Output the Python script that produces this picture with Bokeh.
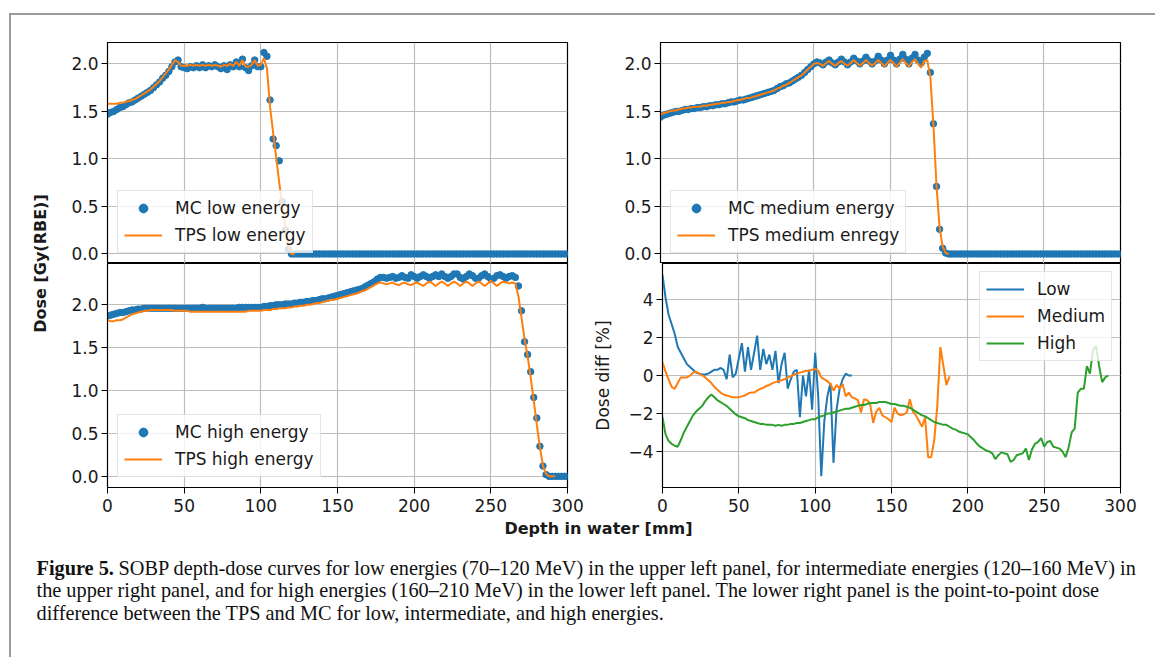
import math
from bokeh.plotting import figure
from bokeh.layouts import row, column
from bokeh.models import Range1d, FixedTicker, Legend, LegendItem, Div
from bokeh.core.properties import value
from bokeh.embed import file_html
from bokeh.resources import INLINE

# ---------------- data ----------------
STEP = 2  # depth grid spacing in mm
depth_ticks = [0, 50, 100, 150, 200, 250, 300]
dose_ticks = [0.0, 0.5, 1.0, 1.5, 2.0]
diff_ticks = [-4, -2, 0, 2, 4]

mc_low = [
    1.47, 1.49, 1.50, 1.52, 1.54, 1.55, 1.57, 1.59, 1.60, 1.62,
    1.64, 1.66, 1.68, 1.70, 1.72, 1.75, 1.78, 1.81, 1.85, 1.88,
    1.92, 1.97, 2.02, 2.04, 1.97, 1.96, 1.95, 1.97, 1.96, 1.98,
    1.96, 1.99, 1.96, 1.98, 1.97, 1.99, 1.97, 1.95, 1.98, 1.94,
    1.99, 1.97, 2.02, 1.97, 2.05, 1.96, 1.93, 1.98, 2.04, 1.97,
    1.97, 2.12, 2.08, 1.62, 1.21, 1.14, 0.98, 0.55, 0.25, 0.05,
    0, 0, 0, 0, 0, 0, 0, 0, 0, 0,
    0, 0, 0, 0, 0, 0, 0, 0, 0, 0,
    0, 0, 0, 0, 0, 0, 0, 0, 0, 0,
    0, 0, 0, 0, 0, 0, 0, 0, 0, 0,
    0, 0, 0, 0, 0, 0, 0, 0, 0, 0,
    0, 0, 0, 0, 0, 0, 0, 0, 0, 0,
    0, 0, 0, 0, 0, 0, 0, 0, 0, 0,
    0, 0, 0, 0, 0, 0, 0, 0, 0, 0,
    0, 0, 0, 0, 0, 0, 0, 0, 0, 0,
    0,
]
tps_low = [
    1.58, 1.58, 1.58, 1.58, 1.59, 1.59, 1.60, 1.61, 1.62, 1.63,
    1.65, 1.67, 1.69, 1.71, 1.73, 1.76, 1.79, 1.82, 1.86, 1.90,
    1.94, 1.99, 2.04, 2.02, 1.98, 1.98, 1.98, 1.99, 1.98, 1.99,
    1.98, 1.99, 1.98, 1.99, 1.98, 1.99, 1.98, 1.97, 1.99, 1.98,
    2.00, 1.98, 2.02, 1.98, 2.04, 1.97, 1.97, 1.99, 2.04, 1.98,
    1.99, 2.06, 1.95, 1.55, 1.28, 1.02, 0.75, 0.50, 0.28, 0.08,
    0.0, 0.0,
]
mc_medium = [
    1.44, 1.46, 1.47, 1.48, 1.49, 1.50, 1.50, 1.51, 1.52, 1.52,
    1.53, 1.53, 1.54, 1.54, 1.55, 1.55, 1.56, 1.56, 1.57, 1.57,
    1.58, 1.58, 1.59, 1.60, 1.60, 1.61, 1.62, 1.62, 1.63, 1.64,
    1.65, 1.66, 1.67, 1.68, 1.69, 1.70, 1.71, 1.72, 1.74, 1.76,
    1.77, 1.79, 1.80, 1.82, 1.84, 1.86, 1.88, 1.91, 1.94, 1.97,
    2.00, 2.02, 2.01, 1.99, 2.02, 2.04, 2.01, 1.99, 2.02, 2.05,
    2.02, 1.99, 2.02, 2.06, 2.03, 2.00, 2.03, 2.07, 2.03, 2.00,
    2.03, 2.08, 2.04, 2.00, 2.04, 2.09, 2.04, 2.00, 2.05, 2.10,
    2.05, 2.00, 2.06, 2.10, 2.04, 2.01, 2.07, 2.11, 1.91, 1.37,
    0.71, 0.26, 0.06, 0.01, 0, 0, 0, 0, 0, 0,
    0, 0, 0, 0, 0, 0, 0, 0, 0, 0,
    0, 0, 0, 0, 0, 0, 0, 0, 0, 0,
    0, 0, 0, 0, 0, 0, 0, 0, 0, 0,
    0, 0, 0, 0, 0, 0, 0, 0, 0, 0,
    0, 0, 0, 0, 0, 0, 0, 0, 0, 0,
    0,
]
tps_medium = [
    1.47, 1.48, 1.49, 1.50, 1.51, 1.51, 1.52, 1.53, 1.53, 1.54,
    1.54, 1.55, 1.55, 1.55, 1.56, 1.56, 1.57, 1.57, 1.58, 1.58,
    1.59, 1.59, 1.60, 1.60, 1.61, 1.62, 1.62, 1.63, 1.64, 1.64,
    1.65, 1.66, 1.67, 1.68, 1.69, 1.70, 1.71, 1.72, 1.74, 1.75,
    1.77, 1.78, 1.80, 1.82, 1.84, 1.86, 1.88, 1.91, 1.94, 1.97,
    2.00, 2.01, 2.00, 1.98, 2.01, 2.03, 2.00, 1.98, 2.01, 2.03,
    2.00, 1.98, 2.01, 2.04, 2.01, 1.98, 2.01, 2.04, 2.01, 1.98,
    2.01, 2.04, 2.01, 1.97, 2.01, 2.04, 2.01, 1.97, 2.01, 2.05,
    2.01, 1.97, 2.02, 2.05, 2.00, 1.96, 2.03, 2.04, 1.86, 1.35,
    0.72, 0.28, 0.08, 0.01, 0.0,
]
mc_high = [
    1.87, 1.88, 1.89, 1.90, 1.91, 1.91, 1.92, 1.93, 1.94, 1.94,
    1.95, 1.95, 1.96, 1.96, 1.96, 1.96, 1.96, 1.96, 1.96, 1.96,
    1.96, 1.96, 1.96, 1.96, 1.96, 1.96, 1.96, 1.96, 1.96, 1.96,
    1.96, 1.97, 1.96, 1.96, 1.96, 1.96, 1.96, 1.96, 1.96, 1.96,
    1.96, 1.96, 1.96, 1.97, 1.97, 1.97, 1.97, 1.97, 1.97, 1.97,
    1.97, 1.98, 1.98, 1.99, 1.99, 2.00, 2.00, 2.00, 2.01, 2.01,
    2.01, 2.02, 2.02, 2.03, 2.03, 2.04, 2.04, 2.05, 2.05, 2.06,
    2.07, 2.07, 2.08, 2.09, 2.10, 2.11, 2.12, 2.13, 2.14, 2.15,
    2.16, 2.17, 2.18, 2.19, 2.21, 2.23, 2.25, 2.27, 2.30, 2.32,
    2.32, 2.31, 2.32, 2.33, 2.31, 2.32, 2.34, 2.32, 2.31, 2.35,
    2.33, 2.31, 2.33, 2.35, 2.33, 2.31, 2.33, 2.35, 2.33, 2.36,
    2.33, 2.31, 2.33, 2.36, 2.36, 2.32, 2.30, 2.33, 2.36, 2.34,
    2.31, 2.31, 2.34, 2.36, 2.33, 2.30, 2.31, 2.34, 2.35, 2.33,
    2.31, 2.33, 2.34, 2.32, 2.22, 1.93, 1.57, 1.42, 1.22, 0.92,
    0.68, 0.35, 0.12, 0.02, 0, 0, 0, 0, 0, 0,
    0,
]
tps_high = [
    1.82, 1.81, 1.81, 1.82, 1.82, 1.83, 1.85, 1.87, 1.89, 1.90,
    1.91, 1.92, 1.93, 1.93, 1.94, 1.94, 1.94, 1.94, 1.94, 1.94,
    1.94, 1.94, 1.93, 1.93, 1.93, 1.93, 1.93, 1.92, 1.92, 1.92,
    1.92, 1.92, 1.92, 1.92, 1.92, 1.92, 1.92, 1.92, 1.92, 1.92,
    1.92, 1.92, 1.92, 1.92, 1.92, 1.92, 1.93, 1.93, 1.93, 1.93,
    1.93, 1.94, 1.94, 1.94, 1.95, 1.95, 1.96, 1.96, 1.96, 1.97,
    1.97, 1.98, 1.98, 1.99, 1.99, 2.00, 2.00, 2.01, 2.02, 2.02,
    2.03, 2.04, 2.05, 2.06, 2.06, 2.07, 2.08, 2.09, 2.10, 2.11,
    2.12, 2.13, 2.14, 2.16, 2.17, 2.19, 2.21, 2.23, 2.25, 2.26,
    2.25, 2.24, 2.25, 2.26, 2.24, 2.23, 2.25, 2.26, 2.24, 2.23,
    2.25, 2.26, 2.24, 2.22, 2.25, 2.27, 2.25, 2.22, 2.25, 2.27,
    2.25, 2.22, 2.25, 2.27, 2.25, 2.22, 2.25, 2.27, 2.25, 2.22,
    2.25, 2.27, 2.25, 2.22, 2.25, 2.28, 2.25, 2.22, 2.25, 2.27,
    2.26, 2.25, 2.26, 2.25, 2.10, 1.85, 1.60, 1.40, 1.15, 0.88,
    0.60, 0.34, 0.12, 0.03, 0.0, 0.0, 0.0,
]
diff_low = [
    5.3, 4.1, 3.2, 2.7, 2.2, 1.5, 1.2, 0.9, 0.6, 0.45,
    0.3, 0.15, 0.1, 0.05, 0.05, 0.1, 0.2, 0.3, 0.3, 0.4,
    0.3, -0.2, 1.1, -0.1, 0.1, 0.9, 1.7, 0.2, 1.5, 0.3,
    1.2, 2.1, 0.3, 1.4, 0.6, 1.1, 0.3, 1.3, -0.4, 0.6,
    1.2, -0.7, -0.2, 0.2, 0.3, -2.2, 0.0, -1.1, 0.3, -1.8,
    1.2, -1.1, -5.3, -2.4, -1.1, -0.4, -4.6, -1.8, -0.7, -0.2,
    0.1, 0.0, 0.0,
]
diff_medium = [
    0.7, 0.2, -0.2, -0.6, -0.7, -0.4, -0.1, -0.1, -0.1, 0.0,
    0.15, 0.2, 0.1, 0.0, -0.1, -0.25, -0.4, -0.6, -0.75, -0.9,
    -1.0, -1.05, -1.1, -1.15, -1.15, -1.15, -1.1, -1.05, -0.95, -0.9,
    -0.9, -0.8, -0.7, -0.65, -0.55, -0.5, -0.4, -0.35, -0.3, -0.25,
    -0.2, -0.1, -0.05, 0.05, 0.1, 0.15, 0.2, 0.25, 0.25, 0.3,
    0.35, 0.25, -0.1, -0.2, -0.3, -0.45, -0.8, -0.5, -0.7, -0.45,
    -1.1, -0.9, -1.15, -1.2, -1.3, -1.95, -1.25, -1.3, -1.5, -2.5,
    -1.9, -1.7, -2.1, -2.2, -2.3, -2.45, -1.7, -2.0, -2.1, -2.05,
    -1.95, -1.25, -1.9, -2.1, -2.4, -2.7, -2.2, -4.3, -4.3, -3.4,
    -1.6, 1.5, 0.5, -0.5, -0.05,
]
diff_high = [
    -2.2, -3.1, -3.45, -3.6, -3.7, -3.75, -3.4, -3.0, -2.7, -2.4,
    -2.1, -1.9, -1.75, -1.6, -1.35, -1.15, -1.0, -1.15, -1.3, -1.4,
    -1.5, -1.6, -1.75, -1.9, -2.05, -2.15, -2.2, -2.25, -2.35, -2.4,
    -2.45, -2.5, -2.55, -2.55, -2.6, -2.6, -2.6, -2.65, -2.6, -2.65,
    -2.6, -2.6, -2.55, -2.55, -2.5, -2.5, -2.45, -2.4, -2.35, -2.3,
    -2.3, -2.2, -2.15, -2.1, -2.0, -2.0, -1.95, -1.9, -1.85, -1.8,
    -1.75, -1.75, -1.7, -1.65, -1.6, -1.55, -1.55, -1.5, -1.45, -1.45,
    -1.45, -1.4, -1.4, -1.4, -1.45, -1.5, -1.5, -1.55, -1.6, -1.6,
    -1.65, -1.7, -1.8, -1.9, -2.0, -2.1, -2.15, -2.25, -2.35, -2.45,
    -2.5, -2.55, -2.6, -2.6, -2.7, -2.8, -2.85, -2.95, -3.0, -3.05,
    -3.1, -3.25, -3.4, -3.6, -3.75, -3.85, -3.95, -4.0, -4.1, -4.4,
    -4.2, -4.05, -4.1, -4.15, -4.55, -4.45, -4.2, -4.15, -4.1, -3.85,
    -4.45, -3.9, -3.6, -3.5, -3.3, -3.75, -3.5, -3.45, -3.75, -3.8,
    -3.85, -4.0, -4.3, -3.8, -3.0, -2.8, -0.9, -0.7, -0.7, 0.5,
    0.1, 1.35, 1.55, 0.5, -0.35, -0.1, 0.0,
]

caption_bold = "Figure 5."
caption_lines = [
    "SOBP depth-dose curves for low energies (70\u2013120 MeV) in the upper left panel, for intermediate energies (120\u2013160 MeV) in",
    "the upper right panel, and for high energies (160\u2013210 MeV) in the lower left panel. The lower right panel is the point-to-point dose",
    "difference between the TPS and MC for low, intermediate, and high energies.",
]


def grid_of(vals):
    return [STEP * i for i in range(len(vals))]


BLUE, ORANGE, GREEN = "#1f77b4", "#ff7f0e", "#2ca02c"
TXT = "#1a1a1a"
FONT = "DejaVu Sans"
TICK_FS = "17px"
LEG_FS = "17px"


def panel(width, height, bl, br, bt, bb, yr, yticks, show_x):
    p = figure(width=width, height=height, x_range=Range1d(0, 300), y_range=Range1d(*yr),
               output_backend="svg", toolbar_location=None,
               min_border_left=bl, min_border_right=br, min_border_top=bt, min_border_bottom=bb,
               x_axis_location="below" if show_x else None)
    p.outline_line_color = "black"
    p.outline_line_width = 1.2
    p.background_fill_color = "white"
    p.border_fill_color = "white"
    p.xgrid.ticker = FixedTicker(ticks=depth_ticks)
    p.ygrid.ticker = FixedTicker(ticks=yticks)
    for g in p.grid:
        g.grid_line_color = "#bdbdbd"
        g.grid_line_width = 1.2
    for ax in p.axis:
        ax.major_tick_out = 6
        ax.major_tick_in = 0
        ax.minor_tick_out = 0
        ax.minor_tick_in = 0
        ax.axis_line_color = "black"
        ax.major_tick_line_color = "black"
        ax.major_label_text_font = FONT
        ax.major_label_text_font_size = TICK_FS
        ax.major_label_text_color = TXT
        ax.major_label_standoff = 3
    if show_x:
        p.xaxis.ticker = FixedTicker(ticks=depth_ticks)
        p.xaxis.major_label_standoff = 5
    p.yaxis.ticker = FixedTicker(ticks=yticks)
    return p


def style_legend(leg):
    leg.padding = 6
    leg.spacing = 5
    leg.glyph_width = 38
    leg.glyph_height = 22
    leg.label_height = 22
    leg.label_standoff = 13
    leg.label_text_font = FONT
    leg.label_text_font_size = LEG_FS
    leg.label_text_color = TXT
    leg.border_line_color = "#cccccc"
    leg.border_line_width = 1
    leg.background_fill_color = "white"
    leg.background_fill_alpha = 0.8
    return leg


dose_fmt = {t: "%.1f" % t for t in dose_ticks}


def dose_panel(width, bl, br, bt, bb, height, yr, mc, tps, mc_label, tps_label, show_x):
    p = panel(width, height, bl, br, bt, bb, yr, dose_ticks, show_x)
    p.yaxis.major_label_overrides = dose_fmt
    r1 = p.scatter(grid_of(mc), mc, size=6.5, color=BLUE, line_color=BLUE)
    r2 = p.line(grid_of(tps), tps, line_width=2, color=ORANGE)
    leg = style_legend(Legend(items=[LegendItem(label=mc_label, renderers=[r1]),
                                     LegendItem(label=tps_label, renderers=[r2])],
                              location=(10, 10), margin=0))
    p.add_layout(leg)
    return p


# upper row (frames 42..263), lower row (frames 263..487)
ul = dose_panel(535, 52, 23, 27, 0, 248, (-0.1, 2.225), mc_low, tps_low,
                "MC low energy", "TPS low energy", False)
ur = dose_panel(555, 70, 25, 27, 0, 248, (-0.1, 2.225), mc_medium, tps_medium,
                "MC medium energy", "TPS medium enregy", False)
ll = dose_panel(535, 52, 23, 0, 30, 254, (-0.13, 2.482), mc_high, tps_high,
                "MC high energy", "TPS high energy", True)

lr = panel(555, 254, 70, 25, 0, 30, (-5.9, 5.9), diff_ticks, True)
lr.yaxis.major_label_overrides = {-4: "\u22124", -2: "\u22122", 0: "0", 2: "2", 4: "4"}
lr.yaxis.axis_label = "Dose diff [%]"
lr.yaxis.axis_label_text_font = FONT
lr.yaxis.axis_label_text_font_style = "normal"
lr.yaxis.axis_label_text_font_size = "17px"
lr.yaxis.axis_label_text_color = TXT
lr.yaxis.axis_label_standoff = 12
d1 = lr.line(grid_of(diff_low), diff_low, line_width=2, color=BLUE)
d2 = lr.line(grid_of(diff_medium), diff_medium, line_width=2, color=ORANGE)
d3 = lr.line(grid_of(diff_high), diff_high, line_width=2, color=GREEN)
lr_leg = style_legend(Legend(items=[LegendItem(label="Low", renderers=[d1]),
                                    LegendItem(label="Medium", renderers=[d2]),
                                    LegendItem(label="High", renderers=[d3])],
                             location="top_right", margin=8))
lr.add_layout(lr_leg)

# shared y label
lab = figure(width=44, height=502, x_range=Range1d(0, 44), y_range=Range1d(0, 502),
             min_border=0, x_axis_location=None, y_axis_location=None,
             output_backend="svg", toolbar_location=None)
lab.outline_line_color = None
lab.grid.visible = False
lab.text(x=[29], y=[254], text=["Dose [Gy(RBE)]"], angle=math.pi / 2,
         text_align="center", text_baseline="middle", text_font=value(FONT),
         text_font_style="bold", text_font_size="16px", text_color=TXT)

# shared x label + caption
cap = figure(width=1144, height=140, x_range=Range1d(0, 1144), y_range=Range1d(140, 0),
             min_border=0, x_axis_location=None, y_axis_location=None,
             output_backend="svg", toolbar_location=None)
cap.outline_line_color = None
cap.grid.visible = False
cap.text(x=[587], y=[11], text=["Depth in water [mm]"], text_align="center",
         text_baseline="middle", text_font=value(FONT), text_font_style="bold",
         text_font_size="16px", text_color=TXT)
SERIF = "Liberation Serif"
CAP_FS = "20.3px"
cap.text(x=[25], y=[50], text=[caption_bold], text_align="left", text_baseline="middle",
         text_font=value(SERIF), text_font_style="bold", text_font_size=CAP_FS, text_color="#111")
cap.text(x=[107, 25, 25], y=[50, 72.5, 95], text=caption_lines, text_align="left",
         text_baseline="middle", text_font=value(SERIF), text_font_size=CAP_FS, text_color="#111")

top_div = Div(text='<div style="margin:0;padding-top:13px;"><div style="margin-left:9px;width:1146px;height:2px;background:#9a9a9a;"></div></div>',
              width=1155, height=15, margin=0)
left_div = Div(text='<div style="margin-left:9px;width:2px;height:642px;background:#9a9a9a;"></div>',
               width=11, height=642, margin=0)

panels = column(row(ul, ur), row(ll, lr))
root = column(top_div, row(left_div, column(row(lab, panels), cap)))

open("out.html", "w").write(file_html(root, INLINE, "Figure 5"))
